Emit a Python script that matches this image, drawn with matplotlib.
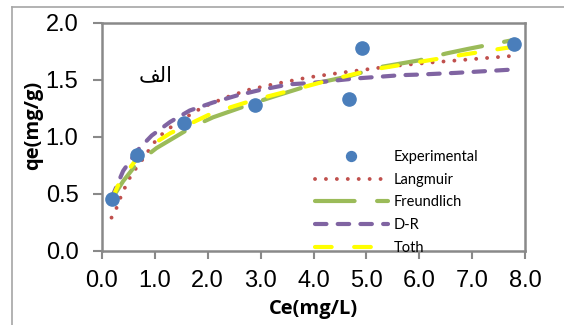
import matplotlib
matplotlib.use('Agg')
import matplotlib.pyplot as plt
from matplotlib.lines import Line2D

# experimental points
ce_exp = [0.18, 0.67, 1.56, 2.90, 4.67, 4.91, 7.80]
qe_exp = [0.45, 0.84, 1.12, 1.28, 1.33, 1.78, 1.81]

# model curves
ce_lang = [0.18, 0.28, 0.37, 0.47, 0.56, 0.72, 0.84, 0.97, 1.13, 1.32, 1.69, 1.91,
           2.32, 2.76, 3.24, 3.90, 4.50, 5.00, 5.50, 6.20, 7.00, 7.80]
qe_lang = [0.29, 0.38, 0.49, 0.59, 0.67, 0.77, 0.85, 0.94, 1.02, 1.09, 1.20, 1.26,
           1.34, 1.41, 1.46, 1.52, 1.56, 1.59, 1.62, 1.65, 1.68, 1.71]

ce_freu = [0.18, 0.40, 0.67, 1.03, 1.72, 2.10, 2.90, 3.30, 4.06, 4.67, 5.25, 6.00, 6.51, 6.92, 7.80]
qe_freu = [0.45, 0.61, 0.77, 0.90, 1.09, 1.17, 1.30, 1.36, 1.47, 1.53, 1.61, 1.67, 1.73, 1.77, 1.85]

ce_dr = [0.18, 0.40, 0.67, 0.94, 1.29, 1.66, 2.10, 2.54, 2.99, 3.55, 3.93, 4.78, 5.66, 6.00, 6.70, 7.80]
qe_dr = [0.46, 0.70, 0.88, 1.01, 1.13, 1.23, 1.30, 1.36, 1.41, 1.46, 1.47, 1.51, 1.54, 1.545, 1.56, 1.59]

ce_toth = [0.18, 0.30, 0.55, 0.78, 1.29, 2.10, 2.86, 3.61, 4.25, 5.13, 5.92, 6.70, 7.52, 7.80]
qe_toth = [0.44, 0.57, 0.74, 0.88, 1.03, 1.21, 1.32, 1.41, 1.49, 1.59, 1.65, 1.71, 1.77, 1.79]

x_ticks = [0, 1, 2, 3, 4, 5, 6, 7, 8]
y_ticks = [0.0, 0.5, 1.0, 1.5, 2.0]

axis_grey = '#898989'

fig = plt.figure(figsize=(5.64, 3.25), dpi=100)
ax = fig.add_axes([102 / 564, 1 - 250.7 / 325, 423 / 564, 228 / 325])

# outer chart frame (cropped at right and bottom)
fig.add_artist(Line2D([12 / 564, 12 / 564], [0, 1 - 7 / 325], color='#a6a6a6', lw=1.2))
fig.add_artist(Line2D([12 / 564, 1], [1 - 7 / 325, 1 - 7 / 325], color='#a6a6a6', lw=1.2))

ax.plot(ce_exp, qe_exp, 'o', color='#4a7ebb', ms=9.5, label='Experimental', zorder=5)
ax.plot(ce_lang, qe_lang, color='#c0504d', lw=2.8, dash_capstyle='round',
        linestyle=(0, (0.01, 2.8)), label='Langmuir')
ax.plot(ce_freu, qe_freu, color='#9bbb59', lw=3.0, dash_capstyle='round',
        linestyle=(0, (9.5, 5.4)), label='Freundlich')
ax.plot(ce_dr, qe_dr, color='#8064a2', lw=3.0, dash_capstyle='round',
        linestyle=(0, (2.75, 2.7)), label='D-R')
ax.plot(ce_toth, qe_toth, color='#ffff00', lw=3.0, dash_capstyle='round',
        linestyle=(0, (4, 5.4)), label='Toth', zorder=4)

ax.set_xlim(0, 8)
ax.set_ylim(0, 2)
ax.set_xticks(x_ticks)
ax.set_xticklabels(['%.1f' % v for v in x_ticks])
ax.set_yticks(y_ticks)
ax.set_yticklabels(['%.1f' % v for v in y_ticks])
for lab in ax.get_xticklabels() + ax.get_yticklabels():
    lab.set_fontfamily('Liberation Sans')
    lab.set_fontsize(17)
ax.tick_params(axis='x', direction='out', color=axis_grey, width=1.5, length=5.5, pad=8.5)
ax.tick_params(axis='y', direction='out', color=axis_grey, width=1.5, length=6.5, pad=10.5)

for side in ['left', 'bottom', 'right', 'top']:
    ax.spines[side].set_color(axis_grey)
    ax.spines[side].set_linewidth(1.8)

ax.set_xlabel('Ce(mg/L)', fontfamily='Open Sans', fontweight='bold', fontsize=14.5)
ax.xaxis.set_label_coords(0.5, -(309 - 250.7) / 228)
ax.xaxis.label.set_va('center')
ax.set_ylabel('qe(mg/g)', fontfamily='Open Sans', fontweight='bold', fontsize=14.5)
ax.yaxis.set_label_coords(-(102 - 43) / 423, 0.55)

# "الف" written with Arabic presentation forms so it shows joined, right to left
ax.text(1.02, 1.54, '\ufed2\ufedf\ufe8d', fontfamily='DejaVu Sans', fontsize=15, ha='center', va='center')

leg = ax.legend(loc='upper left', bbox_to_anchor=(315 / 564, 1 - 150 / 325),
                bbox_transform=fig.transFigure, frameon=False,
                prop={'family': 'Lato', 'size': 10.5}, handlelength=5.0,
                handletextpad=0.4, labelspacing=0.6, borderpad=0, borderaxespad=0,
                markerscale=0.75)

fig.savefig('out.png', dpi=100)
